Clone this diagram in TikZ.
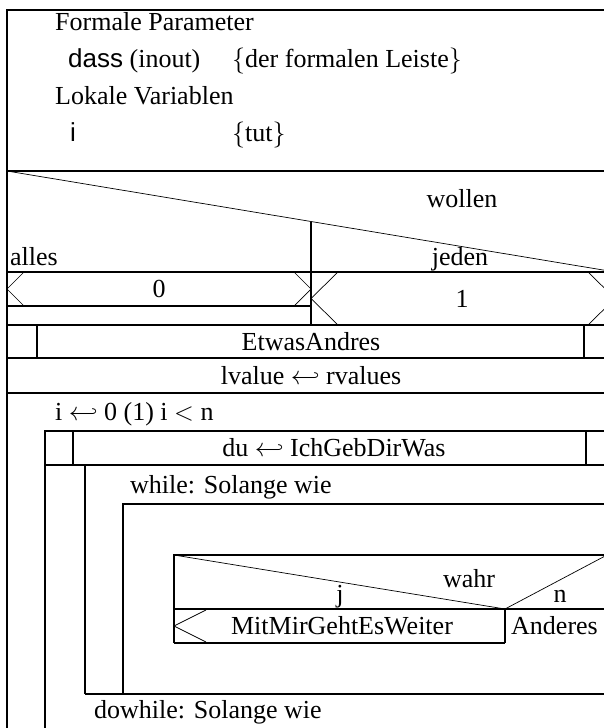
\RequirePackage{fix-cm}
\documentclass[tikz,border=0pt]{standalone}
\usepackage{fontspec}
\setmainfont{Liberation Serif}
\newfontfamily\helv{Liberation Sans}

\begin{document}
\begin{tikzpicture}[x=1pt,y=-1pt,
  frame/.style={line width=2pt},
  rule/.style={line width=1.3pt},
  hair/.style={line width=0.7pt},
  txt/.style={inner sep=0pt,font=\fontsize{26}{31}\selectfont},
  lft/.style={txt,anchor=base west},
  ctr/.style={txt,anchor=base}]
\useasboundingbox (0,0) rectangle (604,728);
\clip (0,0) rectangle (604,728);

% outer frame
\draw[frame] (7,735) -- (7,10) -- (615,10);

% declarations
\node[lft] (fp)   at (55,30)  {Formale Parameter};
\node[lft] (dass) at (68,67)  {{\helv dass} (inout)};
\node[lft] (dassc) at (232,67) {$\{$der formalen Leiste$\}$};
\node[lft] (lv)   at (55,104) {Lokale Variablen};
\node[lft] (iv)   at (70,141) {{\helv i}};
\node[lft] (ivc)  at (232,141) {$\{$tut$\}$};
\draw[frame] (7,171) -- (615,171);

% case
\draw[hair] (7,171) -- (615,272);
\draw[rule] (311,221.5) -- (311,325);
\draw[frame] (7,272) -- (615,272);
\draw[rule] (7,306) -- (311,306);
\draw[hair] (24,272) -- (7,289) -- (24,306);
\draw[hair] (294,272) -- (311,289) -- (294,306);
\draw[hair] (338,272) -- (311,298.5) -- (338,325);
\draw[hair] (588,272) -- (615,298.5) -- (588,325);
\node[ctr] (wollen) at (462,207) {wollen};
\node[lft] (alles)  at (10,265)  {alles};
\node[ctr] (jeden)  at (460,265) {jeden};
\node[ctr] (c0)     at (159,297.5) {0};
\node[ctr] (c1)     at (462,307) {1};
\draw[frame] (7,325) -- (615,325);

% call
\draw[rule] (37,325) -- (37,358);
\draw[rule] (584,325) -- (584,358);
\node[ctr] (etwas) at (311,350) {EtwasAndres};
\draw[frame] (7,358) -- (615,358);

% assignment
\node[ctr] (assign) at (311,384) {lvalue $\hookleftarrow$ rvalues};
\draw[frame] (7,393) -- (615,393);

% for loop
\node[lft] (forhead) at (55,420) {i $\hookleftarrow$ 0 (1) i $<$ n};
\draw[rule] (45,735) -- (45,431) -- (615,431);
\draw[rule] (73,431) -- (73,465);
\draw[rule] (586,431) -- (586,465);
\node[ctr] (du) at (334,456) {du $\hookleftarrow$ IchGebDirWas};
\draw[frame] (45,465) -- (615,465);

% do-while with nested while
\draw[rule] (85,465) -- (85,694);
\node[lft] (whilehead) at (130,493) {while: Solange wie};
\draw[rule] (123,694) -- (123,504) -- (615,504);
\draw[rule] (85,694) -- (615,694);
\node[lft] (dowhile) at (94,718) {dowhile: Solange wie};

% if
\draw[rule] (174,643) -- (174,555) -- (615,555);
\draw[hair] (174,555) -- (505,609) -- (607,555);
\draw[rule] (174,609) -- (615,609);
\draw[rule] (505,609) -- (505,643);
\draw[rule] (174,643) -- (505,643);
\draw[hair] (206,610) -- (174,626) -- (206,642);
\node[ctr] (wahr) at (469,587) {wahr};
\node[ctr] (jj)   at (340,602) {j};
\node[ctr] (nn)   at (560,602) {n};
\node[ctr] (mit)  at (342,634) {MitMirGehtEsWeiter};
\node[lft] (and)  at (511,634) {Anderes};
\end{tikzpicture}
\end{document}
